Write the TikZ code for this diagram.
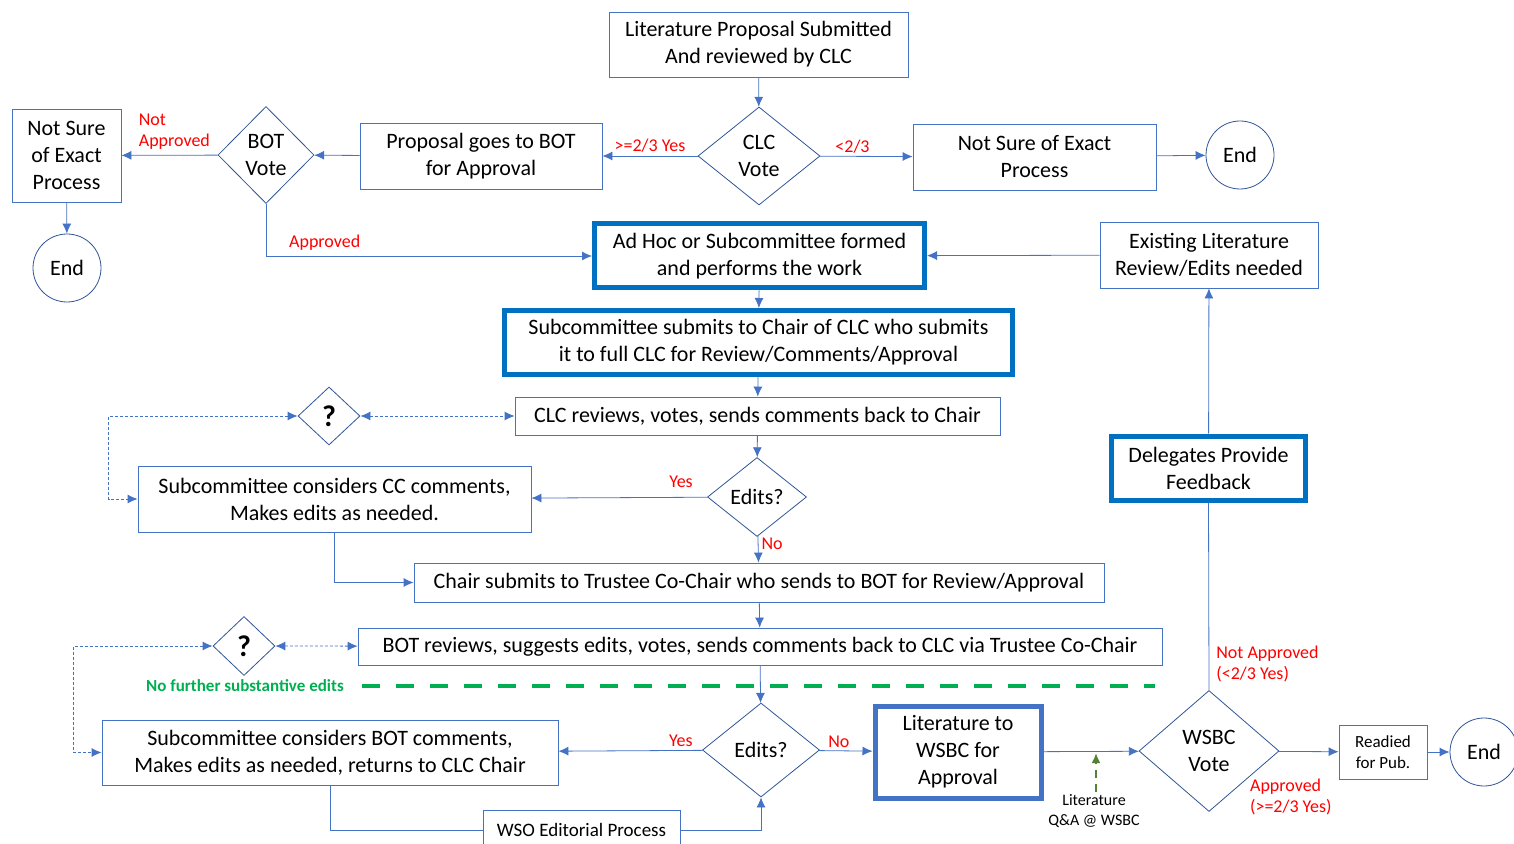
\documentclass[tikz,border=0pt]{standalone}
\usepackage{fontspec}
\setmainfont{Carlito}
\usetikzlibrary{shapes.geometric,arrows.meta}

\definecolor{boxblue}{HTML}{4472C4}
\definecolor{deepblue}{HTML}{0070C0}
\definecolor{decblue}{HTML}{2F5597}
\definecolor{okgreen}{HTML}{00B050}
\definecolor{qagreen}{HTML}{548235}

\newcommand{\mainfs}{\fontsize{11}{13.5}\selectfont}

\tikzset{
	box/.style={draw=boxblue, rectangle, align=center, inner sep=1pt, font=\mainfs},
	bigbox/.style={box, draw=deepblue, line width=2.5pt},
	dec/.style={draw=decblue, diamond, align=center, inner sep=0pt, font=\mainfs},
	endc/.style={draw=decblue, circle, minimum size=34pt, inner sep=0pt, font=\mainfs},
	lab/.style={text=red, align=left, inner sep=1.5pt, font=\fontsize{9}{10.5}\selectfont},
	flow/.style={draw=boxblue, ->},
	maybe/.style={draw=boxblue, <->, dash pattern=on 1.5pt off 1pt},
}

\begin{document}
\begin{tikzpicture}[x=0.5pt, y=-0.5pt, >={Latex[length=5pt,width=4.5pt]}]
	\useasboundingbox (0,0) rectangle (1514,844);

	% top row
	\node[box, minimum width=149.5pt, minimum height=32.5pt] (Prop) at (758.5,44.5) {Literature Proposal Submitted\\And reviewed by CLC};
	\node[dec, minimum width=61pt, minimum height=49pt] (ClcVote) at (759,156) {CLC\\Vote};
	\node[box, minimum width=121pt, minimum height=33pt] (Bot) at (481,156) {Proposal goes to BOT\\for Approval};
	\node[dec, minimum width=48pt, minimum height=48.5pt] (BotVote) at (266,155) {BOT\\Vote};
	\node[box, minimum width=54.5pt, minimum height=46.5pt] (NotSureL) at (66.5,155.5) {Not Sure\\of Exact\\Process};
	\node[endc] (EndL) at (67,268) {End};
	\node[box, minimum width=121.5pt, minimum height=33pt] (NotSureR) at (1034.5,157) {Not Sure of Exact\\Process};
	\node[endc] (EndR) at (1240,155) {End};

	% subcommittee work
	\node[bigbox, minimum width=165pt, minimum height=32pt] (AdHoc) at (759.5,256) {Ad Hoc or Subcommittee formed\\and performs the work};
	\node[box, minimum width=109pt, minimum height=33pt] (Exist) at (1209,255) {Existing Literature\\Review/Edits needed};
	\node[bigbox, minimum width=254pt, minimum height=32pt] (SubSub) at (758.5,342.5) {Subcommittee submits to Chair of CLC who submits\\it to full CLC for Review/Comments/Approval};
	\node[box, minimum width=242.5pt, minimum height=19pt] (ClcRev) at (757.5,416) {CLC reviews, votes, sends comments back to Chair};
	\node[dec, minimum width=31pt, minimum height=29pt, font=\fontsize{15}{15}\bfseries] (Q1) at (329,416) {?};
	\node[box, minimum width=196.5pt, minimum height=33pt] (SubCC) at (334.5,499) {Subcommittee considers CC comments,\\Makes edits as needed.};
	\node[dec, minimum width=49.5pt, minimum height=39.5pt] (Edits1) at (757,497) {Edits?};
	\node[box, minimum width=345pt, minimum height=19.5pt] (Chair) at (759,582.5) {Chair submits to Trustee Co-Chair who sends to BOT for Review/Approval};

	% BOT review
	\node[box, minimum width=402pt, minimum height=18.5pt] (BotRev) at (760,646.5) {BOT reviews, suggests edits, votes, sends comments back to CLC via Trustee Co-Chair};
	\node[dec, minimum width=31pt, minimum height=29.5pt, font=\fontsize{15}{15}\bfseries] (Q2) at (244,646) {?};
	\node[text=okgreen, font=\fontsize{8.5}{10}\bfseries, inner sep=0pt] (NoFurther) at (245,686) {No further substantive edits};
	\coordinate (CutA) at (362,686);
	\coordinate (CutB) at (1155,686);
	\node[box, minimum width=228pt, minimum height=32.5pt] (SubBot) at (330,752.5) {Subcommittee considers BOT comments,\\Makes edits as needed, returns to CLC Chair};
	\node[dec, minimum width=58.5pt, minimum height=47pt] (Edits2) at (761,750) {Edits?};
	\node[box, minimum width=98.5pt, minimum height=20pt, font=\fontsize{9.5}{11}\selectfont] (Wso) at (581.5,830) {WSO Editorial Process};

	% WSBC
	\node[bigbox, draw=boxblue, minimum width=83pt, minimum height=46pt] (LitWsbc) at (958,752) {Literature to\\WSBC for\\Approval};
	\node[dec, minimum width=70pt, minimum height=60.5pt] (WsbcVote) at (1209,751) {WSBC\\Vote};
	\node[box, minimum width=44pt, minimum height=27pt, font=\fontsize{8.5}{10.5}\selectfont] (Readied) at (1383,752) {Readied\\for Pub.};
	\node[endc] (EndB) at (1484,752) {End};
	\node[bigbox, minimum width=97pt, minimum height=32pt] (Deleg) at (1208.5,468) {Delegates Provide\\Feedback};
	\node[align=center, inner sep=1pt, font=\fontsize{8}{10}\selectfont] (QA) at (1094,811) {Literature\\Q\&A @ WSBC};
	\coordinate (QAtip) at (1096,753);

	\draw[flow] (Prop) -- (ClcVote);
	\draw[flow] (ClcVote) -- node[lab, above]{>=2/3 Yes} (Bot);
	\draw[flow] (ClcVote) -- node[lab, above, pos=0.35]{<2/3} (NotSureR);
	\draw[flow] (NotSureR) -- (EndR);
	\draw[flow] (Bot) -- (BotVote);
	\draw[flow] (BotVote) -- node[lab, above=1pt, pos=0.45]{Not\\Approved} (NotSureL);
	\draw[flow] (NotSureL) -- (EndL);
	\draw[flow] (BotVote.south) |- (AdHoc.west) node[lab, pos=0.59, above=1pt]{Approved};
	\draw[flow] (Exist) -- (AdHoc);
	\draw[flow] (AdHoc) -- (SubSub);
	\draw[flow] (SubSub) -- (ClcRev);
	\draw[flow] (ClcRev) -- (Edits1);
	\draw[maybe] (Q1) -- (ClcRev);
	\draw[maybe] (Q1.west) -- ++(-189,0) |- (SubCC.west);
	\draw[flow] (Edits1) -- node[lab, above=3pt, pos=0.15]{Yes} (SubCC);
	\draw[flow] (Edits1) -- node[lab, right, pos=0.3]{No} (Chair);
	\draw[flow] (SubCC.south) |- (Chair.west);
	\draw[flow] (Chair) -- (BotRev);

	\draw[maybe] (Q2) -- (BotRev);
	\draw[maybe] (Q2.west) -- ++(-139,0) |- (SubBot.west);
	\draw[okgreen, line width=2pt, dash pattern=on 9pt off 8pt] (CutA) -- (CutB);
	\draw[flow] (BotRev) -- (Edits2);
	\draw[flow] (Edits2) -- node[lab, above, pos=0.15]{Yes} (SubBot);
	\draw[flow] (Edits2) -- node[lab, above, pos=0.37]{No} (LitWsbc);
	\draw[boxblue] (SubBot.south) |- (Wso.west);
	\draw[flow] (Wso.east) -| (Edits2.south);

	\draw[flow] (LitWsbc) -- (WsbcVote);
	\draw[qagreen, ->, line width=1pt, dash pattern=on 4pt off 3pt] (QA.north -| QAtip) -- (QAtip);
	\draw[flow] (WsbcVote) -- node[lab, below=12pt, pos=0.2]{Approved\\(>=2/3 Yes)} (Readied);
	\draw[flow] (Readied) -- (EndB);
	\draw[boxblue] (WsbcVote.north) -- node[lab, right=2pt, pos=0.14]{Not Approved\\(<2/3 Yes)} (Deleg.south);
	\draw[flow] (Deleg) -- (Exist);

\end{tikzpicture}
\end{document}
